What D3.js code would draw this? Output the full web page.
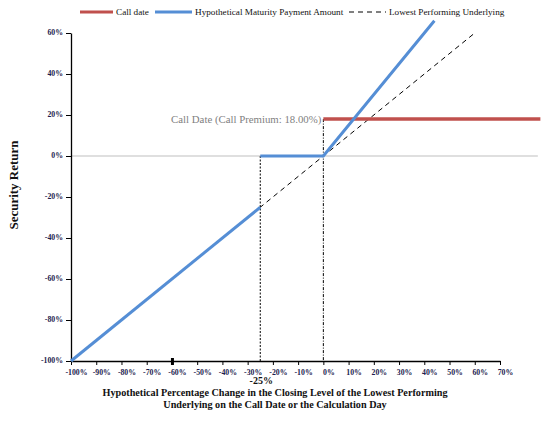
<!DOCTYPE html>
<html>
<head>
<meta charset="utf-8">
<script src="https://cdn.jsdelivr.net/npm/d3@7"></script>
<style>
  body { margin: 0; background: #fff; }
  svg text { font-family: "Liberation Serif", "Times New Roman", serif; }
</style>
</head>
<body>
<div id="chart"></div>
<script>
// chart values
var xTicks = [-100, -90, -80, -70, -60, -50, -40, -30, -20, -10, 0, 10, 20, 30, 40, 50, 60, 70];
var yTicks = [-100, -80, -60, -40, -20, 0, 20, 40, 60];
var barrier = -25;
var callPremium = 18;
var belowBarrier = [[-100, -100], [-25, -25]];
var aboveBarrier = [[-25, 0], [0, 0], [44, 66]];
var underlying = [[-100, -100], [60, 60]];
var callDate = [[0, 18], [86, 18]];
var zeroLine = [[-100, 0], [85, 0]];
var legendItems = ["Call date", "Hypothetical Maturity Payment Amount", "Lowest Performing Underlying"];

var width = 546, height = 422;

var x = d3.scaleLinear().domain([-100, 70]).range([71, 500]);
var y = d3.scaleLinear().domain([-100, 60]).range([361, 33]);

var svg = d3.select("#chart").append("svg")
    .attr("width", width)
    .attr("height", height);

var line = d3.line()
    .x(function (d) { return x(d[0]); })
    .y(function (d) { return y(d[1]); });

function pct(d) { return d + "%"; }

// gray zero line
svg.append("path")
    .datum(zeroLine)
    .attr("d", line)
    .attr("fill", "none")
    .attr("stroke", "#bfbfbf")
    .attr("stroke-width", 1);

// y axis
var yAxis = svg.append("g")
    .attr("transform", "translate(" + x(-100) + ",0)")
    .call(d3.axisLeft(y).tickValues(yTicks).tickFormat(pct).tickSize(5).tickSizeOuter(0));

// x axis
var xAxis = svg.append("g")
    .attr("transform", "translate(0," + y(-100) + ")")
    .call(d3.axisBottom(x).tickValues(xTicks).tickFormat(pct).tickSize(4).tickSizeOuter(0));

[yAxis, xAxis].forEach(function (g) {
    g.select(".domain").attr("stroke", "#000").attr("stroke-width", 1.3);
    g.selectAll(".tick line").attr("stroke", "#000").attr("stroke-width", 1);
    g.selectAll(".tick text")
        .attr("fill", "#1d1d4f")
        .style("font-size", "7.8px")
        .style("font-weight", "bold");
});
xAxis.selectAll(".tick text").attr("dx", 5).attr("y", 8);
yAxis.selectAll(".tick text").attr("dy", "0.2em");

// the odd thick tick at -60%
xAxis.selectAll(".tick line")
    .filter(function (d) { return d === -60; })
    .attr("stroke-width", 3)
    .attr("y1", -3);

// dotted verticals
svg.append("line")
    .attr("x1", x(barrier)).attr("x2", x(barrier))
    .attr("y1", y(0)).attr("y2", y(-100))
    .attr("stroke", "#000").attr("stroke-width", 1)
    .attr("stroke-dasharray", "2,1.5");
svg.append("line")
    .attr("x1", x(0)).attr("x2", x(0))
    .attr("y1", y(callPremium)).attr("y2", y(-100))
    .attr("stroke", "#000").attr("stroke-width", 1)
    .attr("stroke-dasharray", "3,1.5,1,1.5");

// lowest performing underlying (dashed)
svg.append("path")
    .datum(underlying)
    .attr("d", line)
    .attr("fill", "none")
    .attr("stroke", "#000")
    .attr("stroke-width", 1)
    .attr("stroke-dasharray", "5,4");

// call date line
svg.append("path")
    .datum(callDate)
    .attr("d", line)
    .attr("fill", "none")
    .attr("stroke", "#c0504d")
    .attr("stroke-width", 3.5);

// hypothetical maturity payment
[belowBarrier, aboveBarrier].forEach(function (seg) {
    svg.append("path")
        .datum(seg)
        .attr("d", line)
        .attr("fill", "none")
        .attr("stroke", "#558ed5")
        .attr("stroke-width", 3);
});

// annotation
svg.append("text")
    .attr("x", x(0) - 2)
    .attr("y", y(callPremium) + 3.5)
    .attr("text-anchor", "end")
    .attr("fill", "#7f7f7f")
    .style("font-size", "10.8px")
    .text("Call Date (Call Premium: " + callPremium.toFixed(2) + "%)");

// barrier label
svg.append("text")
    .attr("x", x(barrier) + 1)
    .attr("y", 384)
    .attr("text-anchor", "middle")
    .style("font-size", "10px")
    .style("font-weight", "bold")
    .attr("fill", "#111")
    .text(barrier + "%");

// x axis title
var xt = svg.append("text")
    .attr("text-anchor", "middle")
    .style("font-size", "10.2px")
    .style("font-weight", "bold")
    .attr("fill", "#111");
xt.append("tspan").attr("x", 275).attr("y", 396)
    .text("Hypothetical Percentage Change in the Closing Level of the Lowest Performing");
xt.append("tspan").attr("x", 275).attr("y", 408)
    .text("Underlying on the Call Date or the Calculation Day");

// y axis title
svg.append("text")
    .attr("transform", "translate(18,185) rotate(-90)")
    .attr("text-anchor", "middle")
    .style("font-size", "13px")
    .style("font-weight", "bold")
    .attr("fill", "#111")
    .text("Security Return");

// legend
var legend = [
    { x1: 80, x2: 113, color: "#c0504d", w: 3, dash: null },
    { x1: 155, x2: 192, color: "#558ed5", w: 3, dash: null },
    { x1: 349, x2: 386, color: "#000", w: 1, dash: "5,4" }
];
legend.forEach(function (l, i) {
    svg.append("line")
        .attr("x1", l.x1).attr("x2", l.x2)
        .attr("y1", 12).attr("y2", 12)
        .attr("stroke", l.color)
        .attr("stroke-width", l.w)
        .attr("stroke-dasharray", l.dash);
    svg.append("text")
        .attr("x", l.x2 + 3)
        .attr("y", 15)
        .style("font-size", "9.2px")
        .attr("fill", "#111")
        .text(legendItems[i]);
});
</script>
</body>
</html>
